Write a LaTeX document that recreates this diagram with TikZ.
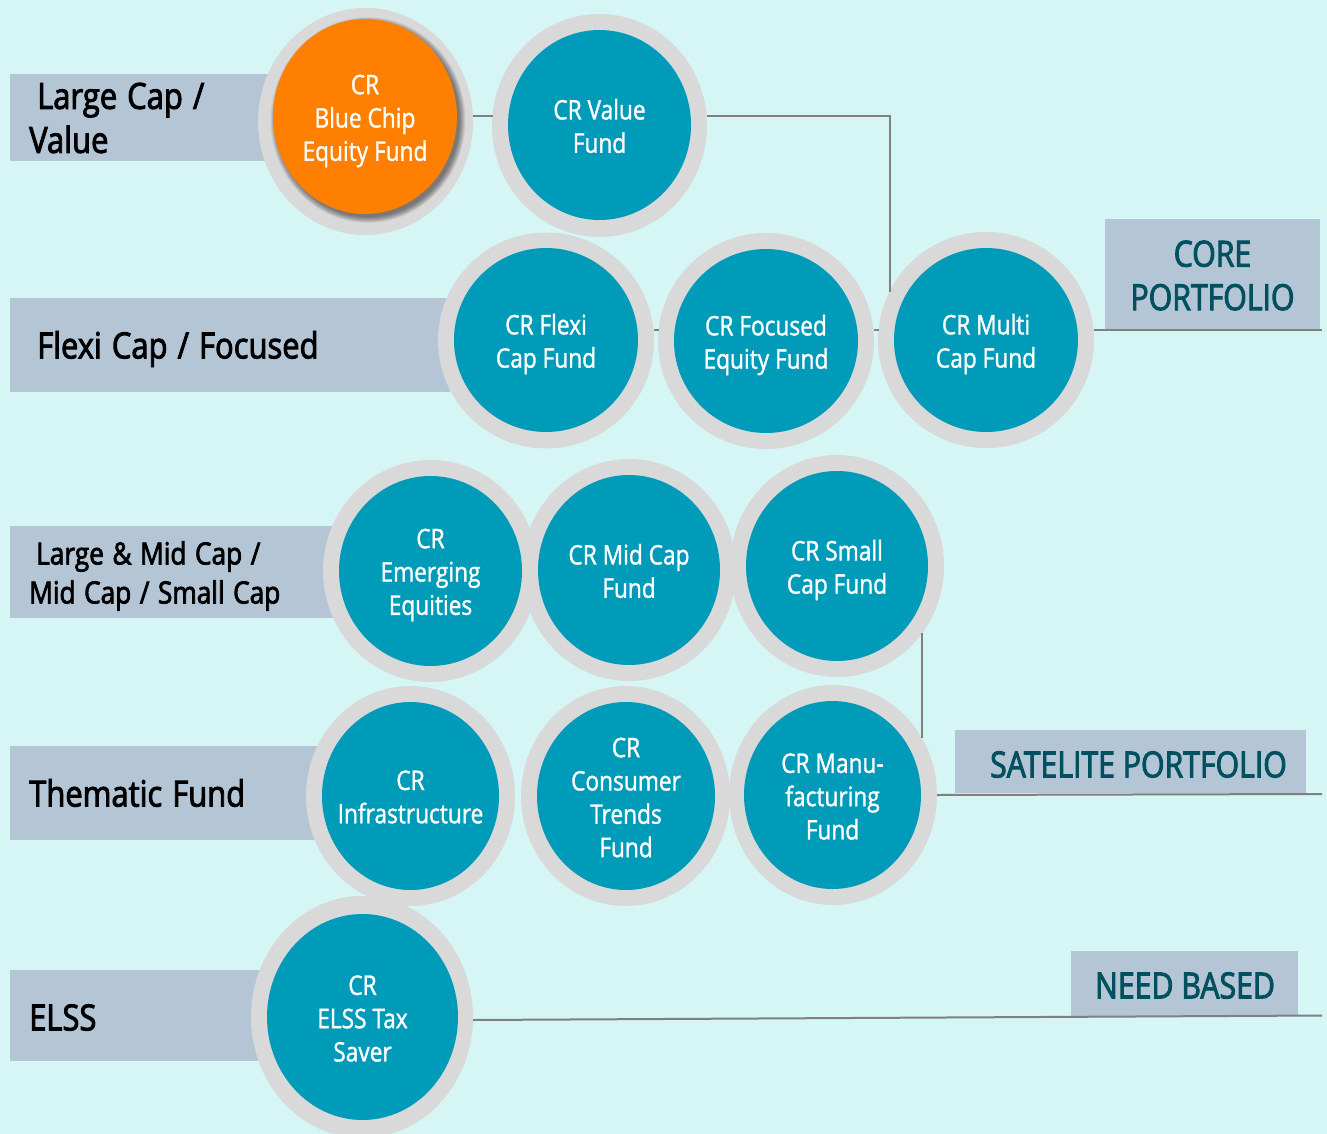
\documentclass[tikz,border=0pt]{standalone}
\usepackage{fontspec}
\setmainfont{Open Sans}
\newfontfamily\circfont{Open Sans}[FakeStretch=0.84,FakeBold=1.2]
\newfontfamily\labfont{Open Sans}[FakeStretch=0.86,FakeBold=2.5,WordSpace=1.25]
\newfontfamily\tagfont{Open Sans}[FakeStretch=0.84,FakeBold=2.5]
\usetikzlibrary{shapes.geometric,calc}
\definecolor{bgc}{HTML}{D5F6F5}
\definecolor{barc}{HTML}{B4C5D5}
\definecolor{ringc}{HTML}{D9D9D9}
\definecolor{tealc}{HTML}{009BB9}
\definecolor{orangec}{HTML}{FF7F00}
\definecolor{linec}{HTML}{808080}
\definecolor{portc}{HTML}{005060}
\tikzset{
  ring/.style={ellipse,fill=ringc,inner sep=0pt,outer sep=0pt},
  disc/.style={ellipse,fill=tealc,inner sep=0pt,outer sep=0pt},
  disctext/.style={inner sep=0pt,text=white,align=center,font=\circfont\fontsize{27}{33.3}\selectfont},
  bar/.style={anchor=north west,fill=barc,inner sep=0pt,outer sep=0pt},
  bartext/.style={anchor=west,inner sep=0pt,align=left,text=black,font=\labfont\fontsize{36}{44}\selectfont},
  tag/.style={anchor=north west,fill=barc,inner sep=0pt,outer sep=0pt},
  tagtext/.style={inner sep=0pt,align=center,text=portc,font=\tagfont\fontsize{36}{43.5}\selectfont},
  conn/.style={draw=linec,line width=2pt}
}
\newcommand{\fundtext}[3]{\node[disctext] (#1t) at ($(#1.center)+(0,#2)$) {#3};}
\begin{document}
\begin{tikzpicture}[x=1pt,y=-1pt]
\useasboundingbox (0,0) rectangle (1327,1134);
\fill[bgc] (0,0) rectangle (1327,1134);

% category bars
\node[bar,minimum width=258pt,minimum height=87pt] (b1) at (10,74) {};
\node[bar,minimum width=440pt,minimum height=94pt] (b2) at (10,298) {};
\node[bar,minimum width=325pt,minimum height=92pt] (b3) at (10,526) {};
\node[bar,minimum width=310pt,minimum height=94pt] (b4) at (10,746) {};
\node[bar,minimum width=250pt,minimum height=91pt] (b5) at (10,970) {};
\node[bartext] (b1t) at (29,118) {\hspace*{8pt}Large Cap /\\Value};
\node[bartext] (b2t) at (37,349) {Flexi Cap / Focused};
\node[bartext,font=\labfont\fontsize{30.5}{39}\selectfont] (b3t) at (29,576) {\hspace*{7pt}Large \& Mid Cap /\\Mid Cap / Small Cap};
\node[bartext] (b4t) at (29,793) {Thematic Fund};
\node[bartext] (b5t) at (29,1017.5) {ELSS};

% portfolio tags
\node[tag,minimum width=215pt,minimum height=110pt] (core) at (1105,219) {};
\node[tag,minimum width=351pt,minimum height=63pt] (sat) at (955,730) {};
\node[tag,minimum width=227pt,minimum height=65pt] (need) at (1071,951) {};
\node[tagtext] (coret) at (1212.5,275.5) {CORE\\PORTFOLIO};
\node[tagtext] (satt) at (1138.5,764.5) {SATELITE PORTFOLIO};
\node[tagtext] (needt) at (1185,985.5) {NEED BASED};
\coordinate (coreend) at (1322,330);
\coordinate (satend) at (1322,794);
\coordinate (needend) at (1322,1015.5);

% rings
\node[ring,minimum width=215pt,minimum height=227pt] (blue) at (365.5,121.5) {};
\node[ring,minimum width=215pt,minimum height=223pt] (value) at (599.5,125.5) {};
\node[ring,minimum width=216pt,minimum height=216pt] (flexi) at (546,340.5) {};
\node[ring,minimum width=216pt,minimum height=216pt] (focused) at (766,341) {};
\node[ring,minimum width=216pt,minimum height=216pt] (multi) at (986,340) {};
\node[ring,minimum width=215pt,minimum height=222pt] (emerging) at (430.5,571) {};
\node[ring,minimum width=214pt,minimum height=222pt] (mid) at (629,570) {};
\node[ring,minimum width=214pt,minimum height=222pt] (small) at (837,566) {};
\node[ring,minimum width=209pt,minimum height=220pt] (infra) at (410.5,796) {};
\node[ring,minimum width=209pt,minimum height=220pt] (consumer) at (625.5,796) {};
\node[ring,minimum width=208pt,minimum height=220pt] (manu) at (833,795) {};
\node[ring,minimum width=222pt,minimum height=242pt] (elss) at (362,1017) {};

% soft shadow of the highlighted fund
\foreach \g in {9,8,...,0}
  \fill[black,opacity=0.055] (368,120) ellipse ({91.5+\g*0.65} and {97+\g*0.65});

% discs
\node[disc,fill=orangec,minimum width=184pt,minimum height=195pt] (bluein) at (365,116.5) {};
\node[disc,minimum width=183pt,minimum height=190pt] (valuein) at (599.5,125) {};
\node[disc,minimum width=184pt,minimum height=184pt] (flexiin) at (546,340) {};
\node[disc,minimum width=184pt,minimum height=184pt] (focusedin) at (766,341) {};
\node[disc,minimum width=184pt,minimum height=184pt] (multiin) at (986,340) {};
\node[disc,minimum width=183pt,minimum height=190pt] (emergingin) at (430.5,571) {};
\node[disc,minimum width=182pt,minimum height=190pt] (midin) at (629,570) {};
\node[disc,minimum width=182pt,minimum height=190pt] (smallin) at (837,566) {};
\node[disc,minimum width=177pt,minimum height=188pt] (infrain) at (410.5,796) {};
\node[disc,minimum width=178pt,minimum height=188pt] (consumerin) at (626,796) {};
\node[disc,minimum width=177pt,minimum height=188pt] (manuin) at (832.5,795) {};
\node[disc,minimum width=191pt,minimum height=206pt] (elssin) at (362.5,1017) {};

\fundtext{bluein}{4.5}{CR\\Blue Chip\\Equity Fund}
\fundtext{valuein}{1}{CR Value\\Fund}
\fundtext{flexiin}{4}{CR Flexi\\Cap Fund}
\fundtext{focusedin}{4}{CR Focused\\Equity Fund}
\fundtext{multiin}{4}{CR Multi\\Cap Fund}
\fundtext{emergingin}{4}{CR\\Emerging\\Equities}
\fundtext{midin}{1}{CR Mid Cap\\Fund}
\fundtext{smallin}{4}{CR Small\\Cap Fund}
\fundtext{infrain}{1}{CR\\Infrastructure}
\fundtext{consumerin}{1.5}{CR\\Consumer\\Trends\\Fund}
\fundtext{manuin}{1.5}{CR Manu-\\facturing\\Fund}
\fundtext{elssin}{1.5}{CR\\ELSS Tax\\Saver}

% connectors
\draw[conn] ($(blue.center)+(107,-5.5)$) -- ($(value.center)+(-107,-9.5)$);
\draw[conn] ($(value.center)+(107,-9.5)$) -| ($(multi.center)+(-96.5,-48.5)$);
\draw[conn] ($(flexi.center)+(107.5,-10.5)$) -- ($(focused.center)+(-107.5,-11)$);
\draw[conn] ($(focused.center)+(107.5,-11)$) -- ($(multi.center)+(-107.5,-10)$);
\draw[conn] ($(multi.center)+(107.5,-10)$) -- (coreend);
\draw[conn] ($(small.center)+(85,67.4)$) -- ($(manu.center)+(89,-57)$);
\draw[conn] (manu.east) -- (satend);
\draw[conn] ($(elss.center)+(111,3)$) -- (needend);
\end{tikzpicture}
\end{document}
